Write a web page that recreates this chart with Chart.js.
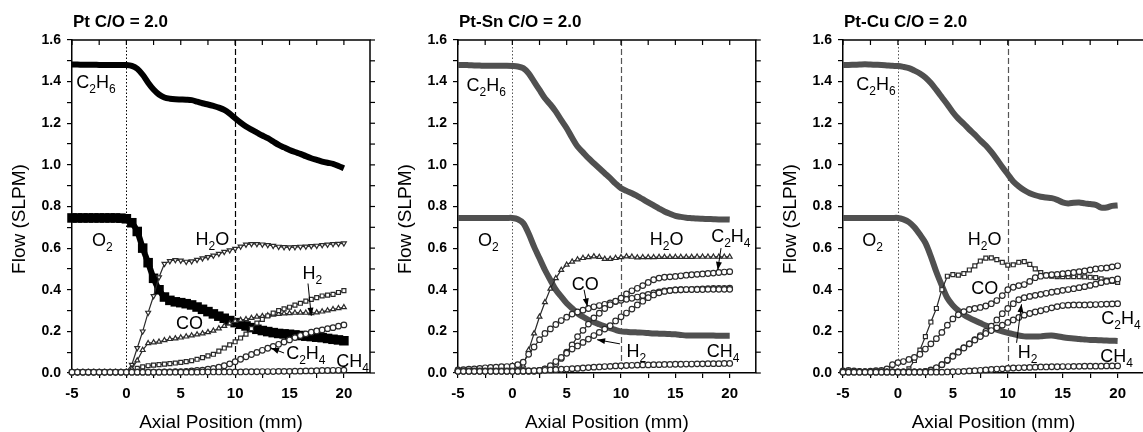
<!DOCTYPE html>
<html>
<head>
<meta charset="utf-8">
<script src="https://cdn.jsdelivr.net/npm/chart.js@4.4.1/dist/chart.umd.min.js"></script>
<style>
html, body { margin: 0; padding: 0; background: #fff; overflow: hidden; }
#wrap { position: relative; width: 1143px; height: 432px; overflow: hidden; }
canvas { position: absolute; top: 0; }
</style>
</head>
<body>
<div id="wrap">
  <canvas id="c1" width="380" height="432" style="left:0px"></canvas>
  <canvas id="c2" width="381" height="432" style="left:380px"></canvas>
  <canvas id="c3" width="390" height="432" style="left:760px"></canvas>
</div>
<script>
// axial positions (mm), shared by every series
const positions = [
  -5, -4.5, -4, -3.5, -3, -2.5, -2, -1.5, -1, -0.5,
  0, 0.5, 1, 1.5, 2, 2.5, 3, 3.5, 4, 4.5,
  5, 5.5, 6, 6.5, 7, 7.5, 8, 8.5, 9, 9.5,
  10, 10.5, 11, 11.5, 12, 12.5, 13, 13.5, 14, 14.5,
  15, 15.5, 16, 16.5, 17, 17.5, 18, 18.5, 19, 19.5,
  20
];
const xTicks = [-5, 0, 5, 10, 15, 20];
const yTicks = [0.0, 0.2, 0.4, 0.6, 0.8, 1.0, 1.2, 1.4, 1.6];

// ---- Pt ----
const ptC2H6 = [1.482,1.482,1.481,1.481,1.481,1.480,1.480,1.480,1.480,1.480,
  1.480,1.476,1.462,1.433,1.395,1.362,1.338,1.324,1.318,1.315,
  1.314,1.313,1.311,1.304,1.296,1.290,1.283,1.275,1.264,1.246,
  1.224,1.203,1.184,1.169,1.155,1.141,1.128,1.112,1.096,1.084,
  1.072,1.062,1.053,1.042,1.032,1.024,1.016,1.010,1.005,0.995, 0.984];
const ptO2 = [0.745,0.745,0.745,0.745,0.745,0.745,0.745,0.745,0.745,0.744,
  0.741,0.722,0.680,0.600,0.530,0.455,0.400,0.365,0.349,0.342,
  0.338,0.333,0.327,0.317,0.306,0.295,0.284,0.273,0.263,0.252,
  0.242,0.234,0.226,0.218,0.210,0.204,0.199,0.194,0.190,0.188,
  0.186,0.183,0.180,0.177,0.175,0.172,0.170,0.166,0.162,0.159, 0.155];
const ptH2O = [0.004,0.004,0.004,0.004,0.004,0.004,0.004,0.004,0.004,0.004,
  0.006,0.040,0.120,0.200,0.290,0.370,0.460,0.525,0.538,0.543,
  0.540,0.535,0.537,0.544,0.551,0.557,0.564,0.573,0.582,0.590,
  0.597,0.608,0.617,0.620,0.620,0.618,0.615,0.611,0.607,0.605,
  0.604,0.605,0.607,0.608,0.610,0.612,0.615,0.617,0.620,0.621, 0.623];
const ptH2 = [0.004,0.004,0.004,0.004,0.004,0.004,0.004,0.004,0.004,0.004,
  0.005,0.020,0.060,0.110,0.143,0.147,0.150,0.157,0.163,0.166,
  0.170,0.175,0.180,0.185,0.190,0.196,0.203,0.214,0.226,0.238,
  0.250,0.255,0.258,0.264,0.270,0.273,0.276,0.280,0.284,0.286,
  0.287,0.289,0.290,0.289,0.287,0.291,0.295,0.300,0.306,0.311, 0.316];
const ptCO = [0.004,0.004,0.004,0.004,0.004,0.004,0.004,0.004,0.004,0.004,
  0.005,0.008,0.022,0.030,0.035,0.038,0.040,0.043,0.045,0.048,
  0.051,0.055,0.059,0.066,0.074,0.082,0.090,0.105,0.120,0.135,
  0.150,0.168,0.187,0.213,0.240,0.258,0.274,0.288,0.300,0.308,
  0.316,0.326,0.335,0.345,0.354,0.362,0.370,0.374,0.378,0.387, 0.396];
const ptC2H4 = [0.004,0.004,0.004,0.004,0.004,0.004,0.004,0.004,0.004,0.004,
  0.004,0.004,0.004,0.004,0.004,0.004,0.004,0.005,0.005,0.006,
  0.006,0.008,0.010,0.012,0.014,0.018,0.022,0.028,0.035,0.044,
  0.054,0.066,0.078,0.089,0.099,0.109,0.119,0.128,0.138,0.149,
  0.159,0.170,0.180,0.188,0.196,0.202,0.207,0.213,0.218,0.225, 0.231];
const ptCH4 = [0.004,0.004,0.004,0.004,0.004,0.004,0.004,0.004,0.004,0.004,
  0.004,0.004,0.004,0.004,0.004,0.004,0.004,0.004,0.004,0.004,
  0.004,0.004,0.004,0.004,0.005,0.005,0.005,0.005,0.005,0.005,
  0.005,0.005,0.006,0.006,0.006,0.007,0.007,0.007,0.008,0.008,
  0.008,0.009,0.009,0.010,0.010,0.011,0.012,0.012,0.013,0.013, 0.014];

// ---- Pt-Sn ----
const snC2H6 = [1.480,1.480,1.479,1.478,1.477,1.476,1.476,1.476,1.476,1.476,
  1.475,1.473,1.465,1.440,1.400,1.360,1.320,1.290,1.256,1.215,
  1.176,1.130,1.088,1.060,1.032,1.008,0.984,0.960,0.936,0.910,
  0.888,0.875,0.864,0.850,0.835,0.820,0.805,0.790,0.776,0.765,
  0.755,0.750,0.746,0.744,0.742,0.741,0.740,0.739,0.738,0.738, 0.737];
const snO2 = [0.745,0.745,0.745,0.745,0.745,0.745,0.745,0.745,0.745,0.745,
  0.745,0.739,0.720,0.670,0.607,0.551,0.495,0.447,0.400,0.367,
  0.335,0.311,0.287,0.270,0.255,0.244,0.234,0.224,0.215,0.207,
  0.200,0.198,0.196,0.195,0.194,0.192,0.190,0.189,0.188,0.187,
  0.186,0.183,0.180,0.180,0.180,0.180,0.180,0.180,0.179,0.179, 0.179];
const snH2O = [0.010,0.010,0.010,0.010,0.010,0.010,0.010,0.010,0.010,0.010,
  0.010,0.012,0.035,0.110,0.190,0.270,0.340,0.405,0.455,0.495,
  0.520,0.535,0.545,0.552,0.556,0.560,0.557,0.548,0.548,0.552,
  0.556,0.560,0.558,0.555,0.556,0.556,0.556,0.557,0.557,0.557,
  0.557,0.557,0.557,0.557,0.558,0.558,0.558,0.558,0.558,0.558, 0.558];
const snCO = [0.015,0.016,0.018,0.020,0.022,0.025,0.027,0.028,0.030,0.031,
  0.033,0.040,0.052,0.090,0.125,0.160,0.190,0.212,0.233,0.252,
  0.268,0.283,0.293,0.302,0.310,0.318,0.324,0.330,0.337,0.343,
  0.349,0.354,0.359,0.365,0.372,0.378,0.385,0.390,0.395,0.397,
  0.399,0.400,0.401,0.402,0.403,0.404,0.405,0.406,0.407,0.407, 0.408];
const snC2H4 = [0.010,0.010,0.010,0.010,0.010,0.010,0.010,0.010,0.010,0.010,
  0.010,0.010,0.010,0.010,0.010,0.012,0.018,0.028,0.045,0.070,
  0.100,0.135,0.175,0.205,0.235,0.265,0.287,0.310,0.328,0.345,
  0.360,0.380,0.395,0.407,0.420,0.435,0.448,0.456,0.460,0.462,
  0.464,0.467,0.470,0.472,0.474,0.476,0.478,0.480,0.483,0.485, 0.487];
const snH2 = [0.008,0.008,0.008,0.008,0.008,0.008,0.008,0.008,0.008,0.008,
  0.008,0.008,0.008,0.008,0.008,0.010,0.020,0.035,0.055,0.075,
  0.095,0.115,0.130,0.147,0.163,0.180,0.195,0.211,0.227,0.250,
  0.270,0.288,0.307,0.327,0.345,0.362,0.375,0.385,0.392,0.396,
  0.399,0.400,0.401,0.401,0.401,0.401,0.402,0.402,0.402,0.402, 0.402];
const snCH4 = [0.008,0.008,0.008,0.008,0.008,0.008,0.008,0.008,0.008,0.008,
  0.008,0.008,0.009,0.010,0.011,0.012,0.013,0.015,0.016,0.018,
  0.019,0.021,0.022,0.024,0.026,0.028,0.029,0.031,0.032,0.034,
  0.035,0.036,0.037,0.038,0.039,0.039,0.040,0.040,0.041,0.041,
  0.042,0.042,0.043,0.043,0.044,0.044,0.045,0.045,0.045,0.046, 0.046];

// ---- Pt-Cu ----
const cuC2H6 = [1.480,1.480,1.481,1.482,1.483,1.482,1.481,1.480,1.478,1.476,
  1.475,1.471,1.465,1.453,1.439,1.420,1.393,1.360,1.325,1.290,
  1.253,1.222,1.197,1.170,1.145,1.118,1.093,1.062,1.027,0.990,
  0.955,0.920,0.897,0.878,0.864,0.854,0.847,0.843,0.840,0.832,
  0.820,0.815,0.818,0.819,0.815,0.812,0.808,0.795,0.795,0.803, 0.805];
const cuO2 = [0.745,0.745,0.745,0.745,0.745,0.745,0.745,0.745,0.745,0.745,
  0.745,0.738,0.725,0.700,0.665,0.625,0.560,0.485,0.420,0.360,
  0.325,0.300,0.280,0.265,0.252,0.240,0.228,0.218,0.208,0.200,
  0.193,0.187,0.180,0.176,0.175,0.175,0.176,0.179,0.180,0.177,
  0.172,0.168,0.166,0.163,0.161,0.159,0.158,0.157,0.156,0.155, 0.154];
const cuH2O = [0.005,0.005,0.005,0.005,0.005,0.005,0.005,0.005,0.005,0.005,
  0.005,0.005,0.020,0.060,0.110,0.175,0.245,0.310,0.400,0.465,
  0.473,0.470,0.478,0.495,0.515,0.538,0.552,0.553,0.545,0.532,
  0.518,0.520,0.532,0.535,0.522,0.500,0.482,0.470,0.465,0.463,
  0.463,0.463,0.463,0.463,0.462,0.460,0.458,0.452,0.446,0.440, 0.435];
const cuCO = [0.010,0.012,0.010,0.008,0.007,0.009,0.011,0.012,0.020,0.040,
  0.050,0.055,0.065,0.075,0.090,0.115,0.140,0.165,0.195,0.230,
  0.260,0.280,0.295,0.305,0.310,0.315,0.322,0.333,0.348,0.372,
  0.400,0.412,0.420,0.425,0.440,0.458,0.465,0.469,0.472,0.474,
  0.477,0.480,0.483,0.487,0.490,0.495,0.500,0.503,0.505,0.510, 0.515];
const cuH2 = [0.005,0.005,0.005,0.005,0.005,0.005,0.005,0.005,0.005,0.005,
  0.005,0.005,0.005,0.005,0.005,0.008,0.015,0.025,0.040,0.060,
  0.082,0.102,0.122,0.140,0.160,0.180,0.200,0.225,0.255,0.285,
  0.310,0.333,0.352,0.362,0.368,0.373,0.378,0.383,0.388,0.392,
  0.397,0.401,0.405,0.410,0.415,0.421,0.427,0.434,0.440,0.446, 0.452];
const cuC2H4 = [0.005,0.005,0.005,0.005,0.005,0.005,0.005,0.005,0.005,0.005,
  0.005,0.005,0.005,0.005,0.005,0.006,0.012,0.025,0.040,0.062,
  0.080,0.100,0.120,0.140,0.158,0.175,0.190,0.204,0.217,0.230,
  0.243,0.255,0.267,0.278,0.286,0.293,0.299,0.306,0.313,0.319,
  0.324,0.326,0.327,0.327,0.327,0.328,0.329,0.330,0.331,0.332, 0.333];
const cuCH4 = [0.004,0.004,0.004,0.004,0.004,0.004,0.004,0.004,0.004,0.004,
  0.004,0.004,0.004,0.004,0.004,0.004,0.004,0.004,0.004,0.005,
  0.006,0.007,0.008,0.010,0.011,0.013,0.015,0.017,0.019,0.020,
  0.022,0.024,0.025,0.026,0.027,0.028,0.029,0.029,0.030,0.030,
  0.031,0.031,0.032,0.032,0.033,0.033,0.033,0.033,0.034,0.034, 0.034];

// species labels: text (with _ for subscript), x (mm), y (SLPM)
const ptLabels = [['C_2H_6', -2.8, 1.40], ['O_2', -2.2, 0.64], ['H_2O', 7.9, 0.645],
  ['H_2', 17.1, 0.485], ['CO', 5.8, 0.245], ['C_2H_4', 16.5, 0.10], ['CH_4', 20.8, 0.058]];
const snLabels = [['C_2H_6', -2.4, 1.385], ['O_2', -2.2, 0.64], ['H_2O', 14.2, 0.645],
  ['C_2H_4', 20.1, 0.66], ['CO', 6.7, 0.43], ['H_2', 11.4, 0.11], ['CH_4', 19.4, 0.11]];
const cuLabels = [['C_2H_6', -2.0, 1.39], ['O_2', -2.3, 0.64], ['H_2O', 7.9, 0.645],
  ['CO', 7.9, 0.41], ['C_2H_4', 20.3, 0.265], ['H_2', 11.8, 0.105], ['CH_4', 19.9, 0.082]];
// arrows: from x, from y, to x, to y
const ptArrows = [[16.7, 0.43, 17.0, 0.275], [14.5, 0.096, 13.3, 0.12]];
const snArrows = [[19.2, 0.60, 18.9, 0.495], [6.6, 0.40, 6.9, 0.32], [9.9, 0.14, 7.8, 0.16]];
const cuArrows = [[10.8, 0.145, 11.25, 0.33]];

const FONT = '"Liberation Sans", Arial, sans-serif';

function pts(ys) {
  return ys.map((v, i) => ({x: positions[i], y: v}));
}

function thick(ys, color, w) {
  return {data: pts(ys), borderColor: color, borderWidth: w, pointRadius: 0,
    tension: 0.3, clip: false};
}

function marks(ys, style, color, rot) {
  return {data: pts(ys), borderColor: color, borderWidth: 1.2, pointStyle: style,
    pointRadius: 2.8, pointBorderWidth: 1.2, pointBackgroundColor: '#fff',
    pointBorderColor: color, pointRotation: rot || 0, tension: 0, clip: false};
}

function drawSpecies(ctx, text, cx, cy) {
  const parts = [];
  text.split(/(_\d)/).forEach(p => {
    if (!p) return;
    if (p[0] === '_') parts.push([p.slice(1), true]);
    else parts.push([p, false]);
  });
  const big = '18px ' + FONT, small = '12px ' + FONT;
  let w = 0;
  parts.forEach(p => { ctx.font = p[1] ? small : big; w += ctx.measureText(p[0]).width; });
  let x = cx - w / 2;
  const base = cy + 6.5;
  ctx.fillStyle = '#000';
  ctx.textAlign = 'left';
  ctx.textBaseline = 'alphabetic';
  parts.forEach(p => {
    ctx.font = p[1] ? small : big;
    ctx.fillText(p[0], x, p[1] ? base + 5 : base);
    x += ctx.measureText(p[0]).width;
  });
}

function arrow(ctx, x1, y1, x2, y2) {
  const a = Math.atan2(y2 - y1, x2 - x1);
  ctx.beginPath(); ctx.moveTo(x1, y1); ctx.lineTo(x2, y2); ctx.stroke();
  ctx.beginPath();
  ctx.moveTo(x2, y2);
  ctx.lineTo(x2 - 8 * Math.cos(a) + 3 * Math.sin(a), y2 - 8 * Math.sin(a) - 3 * Math.cos(a));
  ctx.lineTo(x2 - 8 * Math.cos(a) - 3 * Math.sin(a), y2 - 8 * Math.sin(a) + 3 * Math.cos(a));
  ctx.closePath(); ctx.fill();
}

const decor = {
  id: 'decor',
  beforeDatasetsDraw(chart, args, o) {
    const {ctx, chartArea: a, scales: {x}} = chart;
    ctx.save();
    ctx.strokeStyle = o.guide;
    ctx.lineWidth = 1;
    ctx.setLineDash([1.5, 2]);
    let px = Math.round(x.getPixelForValue(0)) + 0.5;
    ctx.beginPath(); ctx.moveTo(px, a.top); ctx.lineTo(px, a.bottom); ctx.stroke();
    ctx.setLineDash([6, 3]);
    ctx.lineWidth = 1.2;
    px = Math.round(x.getPixelForValue(10)) + 0.5;
    ctx.beginPath(); ctx.moveTo(px, a.top); ctx.lineTo(px, a.bottom); ctx.stroke();
    ctx.restore();
  },
  afterDraw(chart, args, o) {
    const {ctx, chartArea: a, scales: {x, y}} = chart;
    ctx.save();
    // top and right frame with ticks
    ctx.strokeStyle = '#000';
    ctx.lineWidth = 1.5;
    ctx.beginPath();
    ctx.moveTo(a.left, a.top); ctx.lineTo(a.right, a.top); ctx.lineTo(a.right, a.bottom);
    ctx.stroke();
    ctx.lineWidth = 1.2;
    x.ticks.forEach(t => {
      const px = x.getPixelForValue(t.value);
      ctx.beginPath(); ctx.moveTo(px, a.top); ctx.lineTo(px, a.top + 5); ctx.stroke();
    });
    y.ticks.forEach(t => {
      const py = y.getPixelForValue(t.value);
      ctx.beginPath(); ctx.moveTo(a.right, py); ctx.lineTo(a.right + 5, py); ctx.stroke();
    });
    // title
    ctx.fillStyle = '#000';
    ctx.font = 'bold 17px ' + FONT;
    ctx.textAlign = 'left';
    ctx.textBaseline = 'middle';
    ctx.fillText(o.title, a.left + 1, 22);
    // axis titles
    ctx.font = '19px ' + FONT;
    ctx.textAlign = 'center';
    ctx.fillText('Axial Position (mm)', (a.left + a.right) / 2, 423);
    ctx.save();
    ctx.translate(a.left - 52, 219);
    ctx.rotate(-Math.PI / 2);
    ctx.fillText('Flow (SLPM)', 0, 0);
    ctx.restore();
    // species labels and arrows
    o.labels.forEach(l => drawSpecies(ctx, l[0], x.getPixelForValue(l[1]), y.getPixelForValue(l[2])));
    ctx.strokeStyle = '#000';
    ctx.fillStyle = '#000';
    ctx.lineWidth = 1;
    o.arrows.forEach(r => arrow(ctx, x.getPixelForValue(r[0]), y.getPixelForValue(r[1]),
      x.getPixelForValue(r[2]), y.getPixelForValue(r[3])));
    ctx.restore();
  }
};

function makeChart(id, axisWidth, padRight, datasets, deco) {
  return new Chart(document.getElementById(id), {
    type: 'line',
    data: {datasets: datasets},
    plugins: [decor],
    options: {
      responsive: false,
      animation: false,
      layout: {padding: {top: 40, right: padRight, left: 0, bottom: 0}},
      plugins: {legend: {display: false}, tooltip: {enabled: false}, decor: deco},
      scales: {
        x: {
          type: 'linear', min: -5, max: 22.4,
          afterFit: s => { s.height = 59; },
          afterBuildTicks: s => {
            s.ticks = s.ticks.filter(t => Math.abs(t.value / 2.5 - Math.round(t.value / 2.5)) < 1e-6);
          },
          grid: {drawOnChartArea: false, tickLength: 5, color: '#000', lineWidth: 1.2},
          border: {color: '#000', width: 1.5},
          ticks: {
            stepSize: 2.5, includeBounds: false, autoSkip: false, maxRotation: 0, padding: 7,
            color: '#000', font: {family: FONT, size: 15, weight: 'bold'},
            callback: v => {
              const k = Math.round(v * 10) / 10;
              return xTicks.some(t => Math.abs(t - k) < 1e-9) ? String(Math.round(k)) : '';
            }
          }
        },
        y: {
          min: 0, max: 1.6,
          afterFit: s => { s.width = axisWidth; },
          grid: {drawOnChartArea: false, tickLength: 5, color: '#000', lineWidth: 1.2},
          border: {color: '#000', width: 1.5},
          ticks: {
            stepSize: 0.1, autoSkip: false, padding: 6, color: '#000',
            font: {family: FONT, size: 14, weight: 'bold'},
            callback: v => {
              const k = Math.round(v * 10) / 10;
              return yTicks.some(t => Math.abs(t - k) < 1e-9) ? k.toFixed(1) : '';
            }
          }
        }
      }
    }
  });
}

const ink = '#2a2a2a';
const gray = '#505050';

makeChart('c1', 72, 7, [
  marks(ptCH4, 'circle', ink),
  marks(ptC2H4, 'circle', ink),
  marks(ptCO, 'rect', ink),
  marks(ptH2, 'triangle', ink),
  marks(ptH2O, 'triangle', ink, 180),
  thick(ptC2H6, '#000', 6),
  Object.assign(thick(ptO2, '#000', 6), {pointStyle: 'rect', pointRadius: 2.5,
    pointBackgroundColor: '#000', pointBorderColor: '#000'})
], {title: 'Pt C/O = 2.0', labels: ptLabels, arrows: ptArrows, guide: '#000'});

makeChart('c2', 78, 2, [
  marks(snCH4, 'circle', ink),
  marks(snH2, 'circle', ink),
  marks(snC2H4, 'circle', ink),
  marks(snCO, 'circle', ink),
  marks(snH2O, 'triangle', ink),
  thick(snC2H6, gray, 6),
  thick(snO2, gray, 6)
], {title: 'Pt-Sn C/O = 2.0', labels: snLabels, arrows: snArrows, guide: '#555'});

makeChart('c3', 83, 6, [
  marks(cuCH4, 'circle', ink),
  marks(cuC2H4, 'circle', ink),
  marks(cuH2, 'circle', ink),
  marks(cuCO, 'circle', ink),
  marks(cuH2O, 'rect', ink),
  thick(cuC2H6, gray, 6),
  thick(cuO2, gray, 6)
], {title: 'Pt-Cu C/O = 2.0', labels: cuLabels, arrows: cuArrows, guide: '#555'});
</script>
</body>
</html>
